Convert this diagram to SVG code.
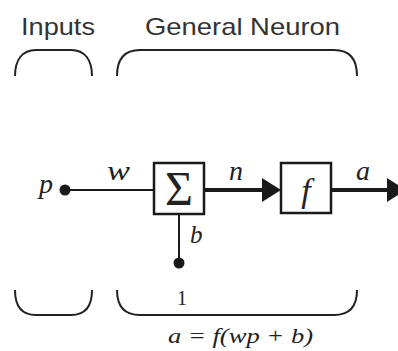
<svg xmlns="http://www.w3.org/2000/svg" width="398" height="351" viewBox="0 0 398 351">
<style>
.hdr{font-family:"Liberation Sans",Arial,sans-serif;font-size:24px;fill:#333}
.m{font-family:"Liberation Serif","Times New Roman",serif;font-style:italic;fill:#222}
.r{font-family:"Liberation Serif","Times New Roman",serif;fill:#222}
.br{fill:none;stroke:#222;stroke-width:2}
.box{fill:#fff;stroke:#1a1a1a;stroke-width:2.5}
.thin{stroke:#1a1a1a;stroke-width:2;fill:none}
.thick{stroke:#1a1a1a;stroke-width:4;fill:none}
.dot{fill:#1a1a1a}
.head{fill:#1a1a1a}
</style>
<rect width="398" height="351" fill="#fff"/>
<g id="labels">
<text class="hdr" x="21" y="35" textLength="74" lengthAdjust="spacingAndGlyphs">Inputs</text>
<text class="hdr" x="145" y="35" textLength="195" lengthAdjust="spacingAndGlyphs">General Neuron</text>
</g>
<g id="brackets">
<path class="br" d="M15,76 C15,60 22,50 36,50 L71,50 C85,50 92,60 92,76"/>
<path class="br" d="M117,76 C117,60 124,50 140,50 L334,50 C350,50 357,60 357,76"/>
<path class="br" d="M15,290 C15,306 22,315 36,315 L71,315 C85,315 92,306 92,290"/>
<path class="br" d="M117,290 C117,306 124,315 140,315 L334,315 C350,315 357,306 357,290"/>
</g>
<g id="connectors">
<line class="thin" x1="66" y1="190" x2="154" y2="190"/>
<line class="thin" x1="179" y1="214" x2="179" y2="263"/>
<line class="thick" x1="204" y1="190" x2="264" y2="190"/>
<polygon class="head" points="262,178 281,190 262,202"/>
<line class="thick" x1="331" y1="190" x2="389" y2="190"/>
<polygon class="head" points="387,178 406,190 387,202"/>
<text class="m" x="107" y="180" font-size="28" textLength="23" lengthAdjust="spacingAndGlyphs">w</text>
<text class="m" x="229" y="180" font-size="28">n</text>
<text class="m" x="356" y="180" font-size="28">a</text>
<text class="m" x="190" y="243" font-size="25">b</text>
</g>
<g id="input-p">
<text class="m" x="39" y="193" font-size="28">p</text>
<circle class="dot" cx="65" cy="190" r="5.5"/>
</g>
<g id="bias">
<circle class="dot" cx="179" cy="263" r="5.5"/>
<text class="r" x="177" y="305" font-size="20">1</text>
</g>
<g id="sum">
<rect class="box" x="154" y="163" width="50" height="51"/>
<text class="r" x="179" y="205" font-size="48" text-anchor="middle">Σ</text>
</g>
<g id="transfer">
<rect class="box" x="281" y="163" width="50" height="50"/>
<text class="m" x="306" y="202" font-size="34" text-anchor="middle">f</text>
</g>
<g id="formula">
<text class="m" x="168" y="343" font-size="21" textLength="145" lengthAdjust="spacingAndGlyphs">a = f(wp + b)</text>
</g>
</svg>
